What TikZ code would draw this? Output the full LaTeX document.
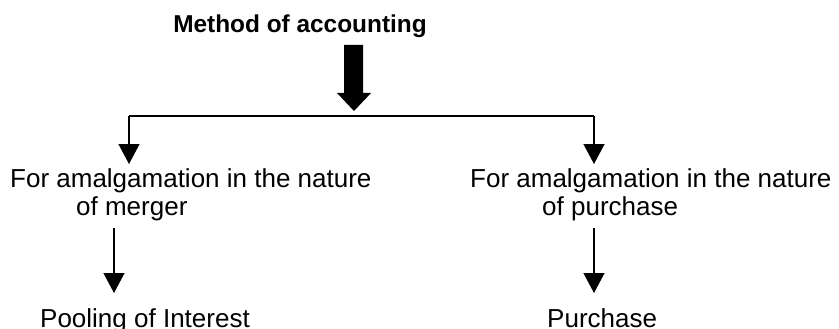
\documentclass[tikz,border=0pt]{standalone}
\usepackage{fontspec}
\setmainfont{Liberation Sans}
\usetikzlibrary{arrows.meta}
\tikzset{
  body/.style={inner sep=0pt, anchor=base west, font=\fontsize{26}{30}\selectfont},
  ttl/.style={inner sep=0pt, anchor=base, font=\fontsize{24.4}{28}\selectfont\bfseries},
  conn/.style={line width=1.3pt, draw=black},
  arr/.style={conn, -{Triangle[width=21pt,length=20pt]}},
  bigarrow/.style={fill=black, draw=none}
}
\begin{document}
\begin{tikzpicture}[x=1pt,y=-1pt]
\useasboundingbox (0,0) rectangle (839,329);
% title
\node[ttl] (title) at (300,33) {Method of accounting};
% thick arrow
\coordinate (bt) at (354,111);
\fill[bigarrow] (344,45) -- (363,45) -- (363,93) -- (371,93) -- (bt) -- (337,93) -- (344,93) -- cycle;
% branch line
\coordinate (jl) at (129,116);
\coordinate (jr) at (594,116);
\draw[conn] (jl) -- (jr);
\coordinate (tl) at (129,164);
\coordinate (tr) at (594,164);
\draw[arr] (jl) -- (tl);
\draw[arr] (jr) -- (tr);
% texts
\node[body] (m1) at (10,187) {For amalgamation in the nature};
\node[body] (m2) at (76,215) {of merger};
\node[body] (p1) at (470,187) {For amalgamation in the nature};
\node[body] (p2) at (542,215) {of purchase};
\node[body] (pool) at (40,327) {Pooling of Interest};
\node[body] (pur) at (547,327) {Purchase};
% lower arrows
\coordinate (ls) at (114,228);
\coordinate (le) at (114,293);
\coordinate (rs) at (594,228);
\coordinate (re) at (594,293);
\draw[arr] (ls) -- (le);
\draw[arr] (rs) -- (re);
\end{tikzpicture}
\end{document}
